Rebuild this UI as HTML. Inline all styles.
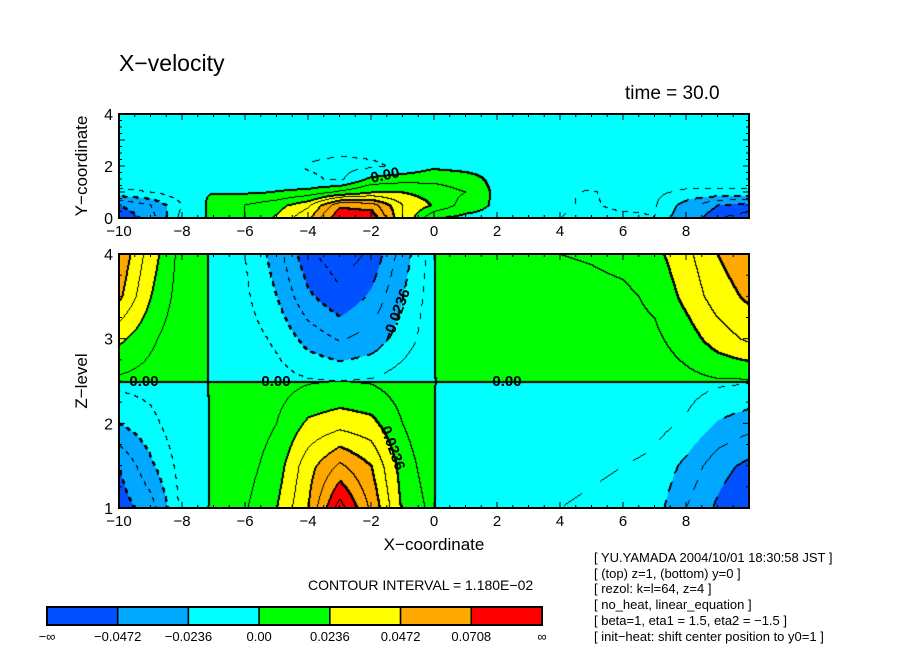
<!DOCTYPE html>
<html><head><meta charset="utf-8"><style>
body{margin:0;background:#fff;width:904px;height:654px;overflow:hidden;position:relative;font-family:"Liberation Sans",sans-serif;}
.t{position:absolute;white-space:nowrap;color:#000;}
canvas{position:absolute;}
</style></head><body>
<div class="t" style="left:119px;top:50px;font-size:23px;">X−velocity</div>
<div class="t" style="left:625px;top:83px;font-size:19px;">time = 30.0</div>
<div class="t" style="left:82px;top:166px;font-size:17px;transform:translate(-50%,-50%) rotate(-90deg);">Y−coordinate</div>
<div class="t" style="left:82px;top:381px;font-size:17px;transform:translate(-50%,-50%) rotate(-90deg);">Z−level</div>
<div class="t" style="left:434px;top:545px;font-size:17px;transform:translate(-50%,-50%);">X−coordinate</div>
<div class="t" style="left:308px;top:577px;font-size:14px;">CONTOUR INTERVAL = 1.180E−02</div>
<div class="t" style="left:594px;top:550px;font-size:13px;line-height:15.7px;">[ YU.YAMADA 2004/10/01 18:30:58 JST ]<br>[ (top) z=1, (bottom) y=0 ]<br>[ rezol: k=l=64, z=4 ]<br>[ no_heat, linear_equation ]<br>[ beta=1, eta1 = 1.5, eta2 = −1.5 ]<br>[ init−heat: shift center position to y0=1 ]</div>
<canvas id="top" width="631" height="105" style="left:119px;top:114px;"></canvas>
<canvas id="bot" width="631" height="255" style="left:119px;top:254px;"></canvas>
<svg id="ov" width="904" height="654" style="position:absolute;left:0;top:0;"></svg>
<script>
const I=0.0118;
const levels=[-0.0472,-0.0236,0,0.0236,0.0472,0.0708];
const levelLabels=["−∞","−0.0472","−0.0236","0.00","0.0236","0.0472","0.0708","∞"];
const colors=["#0050ff","#00a8ff","#00ffff","#00ff00","#ffff00","#ffa800","#ff0000"];
const xs=[-10,-9,-8,-7.3,-7.1,-6,-5,-4,-3,-2,-1,-0.1,0.1,1,2,3,4,5,6,7,8,9,10];
const xTicks=[-10,-8,-6,-4,-2,0,2,4,6,8];
// top panel (y levels), values in units of contour interval
const topYs=[0,0.5,1,1.5,2,3,4];
const topVals=[
[-5,-3.5,-0.6,-0.1,0.5,1,2.2,3.8,7,6.8,3,0.3,-0.05,-0.3,-0.3,-0.5,-1,-1.2,-1.2,-1,-3,-5,-5.5],
[-4,-3,-1,-0.2,0.8,1,1.6,2.8,5.8,5.5,3,2,1.8,0.5,-0.2,-0.4,-0.9,-1.1,-0.8,-0.9,-2.5,-4,-4.5],
[-1.2,-1,-0.4,-0.2,-0.1,-0.1,0.05,0.3,1.2,2,2,1.6,1.5,1,-0.3,-0.4,-0.9,-1.1,-0.6,-0.8,-1.2,-1.2,-1.2],
[-0.4,-0.4,-0.4,-0.4,-0.4,-0.4,-0.5,-0.8,-1.2,0.3,0.6,0.7,0.7,0.4,-0.3,-0.4,-0.4,-0.4,-0.4,-0.4,-0.4,-0.4,-0.4],
[-0.3,-0.3,-0.3,-0.3,-0.3,-0.3,-0.6,-1.1,-1.3,-1.2,-0.8,-0.2,-0.2,-0.3,-0.3,-0.3,-0.3,-0.3,-0.3,-0.3,-0.3,-0.3,-0.3],
[-0.3,-0.3,-0.3,-0.3,-0.3,-0.3,-0.3,-0.4,-0.5,-0.4,-0.3,-0.3,-0.3,-0.3,-0.3,-0.3,-0.3,-0.3,-0.3,-0.3,-0.3,-0.3,-0.3],
[-0.2,-0.2,-0.2,-0.2,-0.2,-0.2,-0.2,-0.2,-0.2,-0.2,-0.2,-0.2,-0.2,-0.2,-0.2,-0.2,-0.2,-0.2,-0.2,-0.2,-0.2,-0.2,-0.2]];
// bottom panel lower half (z 1..2.5)
const lowZs=[1,1.5,2,2.5];
const lowVals=[
[-4.5,-3.5,-0.7,-0.5,0.3,0.9,2,4,7.5,4.8,1.8,0.8,-0.5,-0.5,-0.6,-0.7,-1,-1.2,-1.4,-1.6,-3,-4.2,-5],
[-4,-2.2,-0.6,-0.4,0.2,0.6,1.5,3.6,5.2,4,1.5,0.5,-0.3,-0.4,-0.4,-0.5,-0.6,-0.8,-1,-1.2,-2.3,-3.6,-4.3],
[-2,-1.3,-0.3,-0.3,0.1,0.4,1,2.2,2.6,2.3,1,0.3,-0.2,-0.3,-0.3,-0.3,-0.3,-0.4,-0.5,-0.7,-1.1,-2.1,-2.6],
[-0.7,-0.6,-0.2,-0.1,0.1,0.3,0.6,0.9,1,0.9,0.5,0.2,-0.1,-0.2,-0.2,-0.2,-0.2,-0.2,-0.2,-0.4,-0.6,-0.8,-0.9]];
// bottom panel upper half (z 2.5..4)
const upZs=[2.5,3,3.5,4];
const upVals=[
[0.8,0.6,0.2,0.1,-0.1,-0.3,-0.6,-0.9,-1,-0.9,-0.5,-0.2,0.1,0.2,0.2,0.2,0.2,0.2,0.2,0.4,0.7,0.9,0.9],
[2.2,1.2,0.3,0.2,-0.2,-0.5,-1.2,-2.4,-3.1,-2.6,-1.5,-0.5,0.3,0.4,0.4,0.4,0.5,0.5,0.7,0.8,1.5,2.5,3.2],
[4.2,2,0.5,0.2,-0.2,-0.8,-2,-3.8,-4.8,-3.8,-2,-0.6,0.4,0.6,0.6,0.6,0.6,0.7,0.8,1.2,2.3,3.5,4.2],
[4.8,2.5,0.6,0.3,-0.3,-1,-2.5,-4.8,-5.6,-4.8,-2.5,-0.7,0.5,0.7,0.8,0.9,1,1.1,1.3,1.7,2.7,4,4.8]];

const X0=119,X1=749;
const sx=x=>X0+(x+10)/20*(X1-X0);
function seg(arr,v){for(let i=0;i<arr.length-2;i++){if(v<=arr[i+1])return i;}return arr.length-2;}
function interp(gx,gy,vals,x,y){
  const i=seg(gx,x),j=seg(gy,y);
  const tx=Math.max(0,Math.min(1,(x-gx[i])/(gx[i+1]-gx[i])));
  const ty=Math.max(0,Math.min(1,(y-gy[j])/(gy[j+1]-gy[j])));
  const a=vals[j][i],b=vals[j][i+1],c=vals[j+1][i],d=vals[j+1][i+1];
  return ((a*(1-tx)+b*tx)*(1-ty)+(c*(1-tx)+d*tx)*ty)*I;
}
function hex(h){return [parseInt(h.slice(1,3),16),parseInt(h.slice(3,5),16),parseInt(h.slice(5,7),16)];}
const rgb=colors.map(hex);
function render(id,field,ymin,ymax){
  const cv=document.getElementById(id),ctx=cv.getContext('2d');
  const W=cv.width,H=cv.height,img=ctx.createImageData(W,H),d=img.data;
  const L=new Int16Array(W*H);
  for(let py=0;py<H;py++){const y=ymax-(py/(H-1))*(ymax-ymin);
    for(let px=0;px<W;px++){const x=-10+px/(W-1)*20;
      const v=field(x,y);L[py*W+px]=Math.floor(v/I+1e-9);
      let k=0;while(k<levels.length&&v>=levels[k])k++;
      const c=rgb[k],o=(py*W+px)*4;d[o]=c[0];d[o+1]=c[1];d[o+2]=c[2];d[o+3]=255;}}
  const set=(px,py)=>{if(px<0||py<0||px>=W||py>=H)return;const o=(py*W+px)*4;d[o]=d[o+1]=d[o+2]=0;};
  for(let py=0;py<H;py++)for(let px=0;px<W;px++){
    const a=L[py*W+px];
    const nb=[];if(px+1<W)nb.push(L[py*W+px+1]);if(py+1<H)nb.push(L[(py+1)*W+px]);
    for(const b of nb){if(a!==b){const lev=Math.max(a,b);
      if(lev<0&&Math.floor((px+py)/6)%2===1)continue;
      set(px,py);if(lev%2===0){set(px+1,py);set(px,py+1);}
    }}}
  ctx.putImageData(img,0,0);
}
render('top',(x,y)=>interp(xs,topYs,topVals,x,y),0,4);
render('bot',(x,z)=>z<2.5?interp(xs,lowZs,lowVals,x,z):interp(xs,upZs,upVals,x,z),1,4);

const svg=document.getElementById('ov');const NS='http://www.w3.org/2000/svg';
function el(t,a,p){const e=document.createElementNS(NS,t);for(const k in a)e.setAttribute(k,a[k]);(p||svg).appendChild(e);return e;}
function txt(s,x,y,anchor,size,name){const e=el('text',{x:x,y:y,'text-anchor':anchor,'font-size':size,'font-family':'Liberation Sans, sans-serif'});e.textContent=s;

return e;}
function panel(yT,yB,yTicks,ymin,ymax,nm){
  const r=el('rect',{x:X0,y:yT,width:X1-X0,height:yB-yT,fill:'none',stroke:'#000','stroke-width':2});
  
  
  for(let x=-10;x<=10;x+=0.5){const X=sx(x),len=(x%2===0)?6:3;
    el('line',{x1:X,x2:X,y1:yB,y2:yB-len,stroke:'#000'});el('line',{x1:X,x2:X,y1:yT,y2:yT+len,stroke:'#000'});}
  const sy=v=>yB-(v-ymin)/(ymax-ymin)*(yB-yT);
  for(let v=ymin;v<=ymax+1e-9;v+=0.25){const Y=sy(v),len=(Math.abs(v-Math.round(v))<1e-9)?6:3;
    el('line',{x1:X0,x2:X0+len,y1:Y,y2:Y,stroke:'#000'});el('line',{x1:X1,x2:X1-len,y1:Y,y2:Y,stroke:'#000'});}
  yTicks.forEach(v=>txt(String(v),X0-6,sy(v)+6,'end',16,nm+'-y-tick-'+v));
  xTicks.forEach(v=>txt(v<0?'−'+(-v):String(v),sx(v),yB+18,'middle',15,nm+'-x-tick-'+v));
}
panel(114,218,[0,2,4],0,4,'top');
panel(254,508,[1,2,3,4],1,4,'bottom');
function lab(s,x,y,rot,name){const g=el('g',{transform:`translate(${x},${y}) rotate(${rot})`});
  
  
  const t=el('text',{x:0,y:5,'text-anchor':'middle','font-size':15,'font-weight':'bold','font-family':'Liberation Sans, sans-serif'},g);t.textContent=s;}
lab('0.00',385,175,-12,'top-zero-label');
lab('0.00',144,381,0,'zero-label-1');lab('0.00',276,381,0,'zero-label-2');lab('0.00',507,381,0,'zero-label-3');
lab('−0.0236',396,315,-70,'neg-label');lab('0.0236',393,448,70,'pos-label');
const CB0=47,CB1=542,cw=(CB1-CB0)/colors.length;
colors.forEach((c,i)=>{const r=el('rect',{x:CB0+i*cw,y:607,width:cw,height:18,fill:c,stroke:'#000','stroke-width':1.5});
  
  });
el('rect',{x:CB0,y:607,width:CB1-CB0,height:18,fill:'none',stroke:'#000','stroke-width':2});
levelLabels.forEach((s,i)=>txt(s,CB0+i*cw,641,'middle',13,'colorbar-label-'+i));
</script>
</body></html>
